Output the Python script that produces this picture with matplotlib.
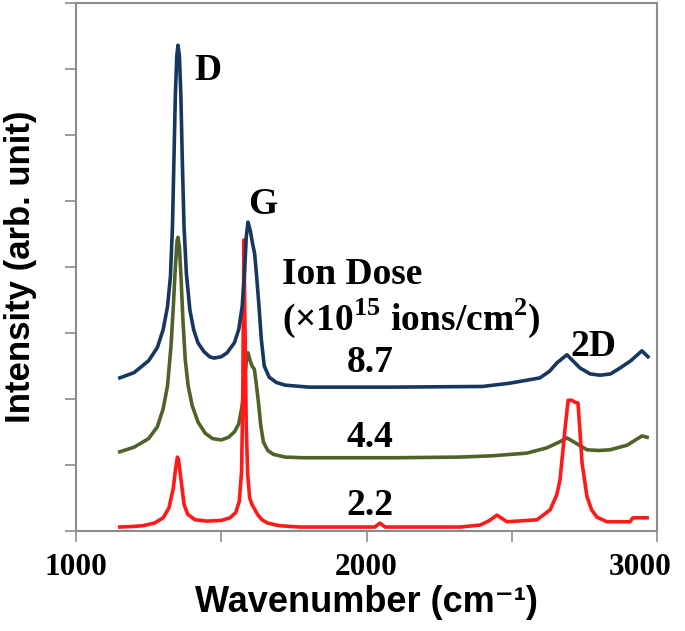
import matplotlib
matplotlib.use('Agg')
import matplotlib.pyplot as plt
import matplotlib.transforms as mtransforms

# Raman spectra, intensity in tick units (arb.)
wn_87 = [1151, 1200, 1250, 1280, 1300, 1315, 1325, 1332, 1337, 1342, 1347, 1351, 1356, 1361, 1366,
         1372, 1380, 1392, 1405, 1420, 1440, 1460, 1475, 1500, 1520, 1545, 1560, 1572, 1580, 1586,
         1592, 1600, 1608, 1615, 1622, 1630, 1638, 1648, 1665, 1690, 1720, 1800, 2100, 2400,
         2494, 2597, 2630, 2656, 2690, 2710, 2735, 2770, 2804, 2840, 2873, 2910, 2948, 2969]
i_87 = [2.32, 2.40, 2.58, 2.78, 3.05, 3.40, 3.85, 4.60, 5.60, 6.60, 7.20, 7.36, 7.20, 6.60, 5.60,
        4.60, 3.90, 3.35, 3.05, 2.85, 2.72, 2.64, 2.62, 2.64, 2.70, 2.85, 3.05, 3.40, 3.90, 4.45,
        4.68, 4.55, 4.35, 4.20, 3.85, 3.40, 2.90, 2.50, 2.33, 2.25, 2.21, 2.18, 2.18, 2.19,
        2.24, 2.32, 2.42, 2.55, 2.67, 2.58, 2.47, 2.38, 2.36, 2.38, 2.47, 2.58, 2.73, 2.64]

wn_44 = [1151, 1200, 1250, 1280, 1300, 1315, 1327, 1335, 1342, 1348, 1351, 1356, 1362, 1368, 1376,
         1386, 1400, 1420, 1445, 1470, 1500, 1525, 1545, 1560, 1572, 1580, 1587, 1592, 1598, 1606,
         1614, 1620, 1628, 1636, 1645, 1660, 1680, 1720, 1780, 2100, 2322, 2435, 2552, 2621,
         2660, 2690, 2725, 2759, 2800, 2838, 2897, 2948, 2966]
i_44 = [1.20, 1.27, 1.40, 1.58, 1.85, 2.20, 2.80, 3.40, 4.00, 4.40, 4.45, 4.30, 3.80, 3.20, 2.60,
        2.20, 1.90, 1.65, 1.48, 1.40, 1.38, 1.42, 1.50, 1.62, 1.90, 2.30, 2.60, 2.70, 2.60, 2.50,
        2.45, 2.25, 1.95, 1.60, 1.35, 1.22, 1.16, 1.12, 1.11, 1.11, 1.12, 1.14, 1.18, 1.26,
        1.34, 1.41, 1.32, 1.23, 1.22, 1.23, 1.30, 1.44, 1.42]

wn_22 = [1151, 1200, 1230, 1270, 1300, 1320, 1335, 1343, 1349, 1353, 1358, 1365, 1372, 1385, 1410,
         1450, 1500, 1530, 1550, 1562, 1570, 1574, 1578, 1582, 1586, 1591, 1598, 1606, 1615, 1625,
         1640, 1660, 1700, 1770, 2029, 2046, 2064, 2322, 2391, 2420, 2449, 2484, 2587,
         2632, 2655, 2666, 2683, 2694, 2707, 2718, 2728, 2735, 2742, 2759, 2775, 2793, 2828,
         2907, 2917, 2966]
i_22 = [0.06, 0.07, 0.08, 0.12, 0.20, 0.35, 0.65, 0.95, 1.12, 1.08, 0.90, 0.65, 0.40, 0.25, 0.17,
        0.15, 0.16, 0.20, 0.28, 0.45, 0.90, 2.00, 4.41, 3.00, 1.60, 0.85, 0.50, 0.40, 0.33, 0.25,
        0.17, 0.12, 0.08, 0.06, 0.06, 0.12, 0.06, 0.06, 0.09, 0.15, 0.24, 0.14, 0.17,
        0.32, 0.55, 0.77, 1.53, 1.98, 1.98, 1.95, 1.94, 1.50, 1.03, 0.52, 0.32, 0.21, 0.14,
        0.14, 0.20, 0.20]

doses = ['8.7', '4.4', '2.2']
colors = ['#17375E', '#4F6228', '#FF1A1A']

plt.rcParams['mathtext.fontset'] = 'custom'
plt.rcParams['mathtext.rm'] = 'Liberation Serif:bold'
plt.rcParams['mathtext.bf'] = 'Liberation Serif:bold'

fig = plt.figure(figsize=(6.85, 6.31), dpi=100)
ax = fig.add_axes([76/685, 100/631, 581/685, 528/631])

# green under red under blue, as in the original
ax.plot(wn_44, i_44, color=colors[1], lw=2.6, solid_joinstyle='round')
ax.plot(wn_22, i_22, color=colors[2], lw=2.6, solid_joinstyle='round')
ax.plot(wn_87, i_87, color=colors[0], lw=2.6, solid_joinstyle='round')

ax.set_xlim(1000, 3000)
ax.set_ylim(0, 8)
ax.set_xticks([1000, 1500, 2000, 2500, 3000])
ax.set_xticklabels(['1000', '', '2000', '', '3000'])
ax.set_yticks(range(9))
ax.set_yticklabels([])
for s in ax.spines.values():
  s.set_color('#8C8C8C')
  s.set_linewidth(1.5)
ax.tick_params(direction='out', length=8, width=1.2, color='#8C8C8C', pad=8)
for lab in ax.get_xticklabels():
  lab.set_fontfamily('Liberation Serif')
  lab.set_fontweight('bold')
  lab.set_fontsize(22.5)
# last label sits a little left so it stays inside the picture
last = ax.get_xticklabels()[-1]
last.set_transform(last.get_transform() +
                   mtransforms.ScaledTranslation(-17/100, 0, fig.dpi_scale_trans))

ax.set_xlabel('Wavenumber (cm\u207b\u00b9)', family=['Liberation Sans', 'DejaVu Sans'],
              fontweight='bold', fontsize=26, labelpad=2)
ax.set_ylabel('Intensity (arb. unit)', family='Liberation Sans', fontweight='bold',
              fontsize=25, labelpad=12)

tkw = dict(family='Liberation Serif', fontweight='bold', fontsize=27)
ax.text(1454, 6.97, 'D', ha='center', va='center', **tkw)
ax.text(1644, 4.95, 'G', ha='center', va='center', **tkw)
ax.text(2780, 2.80, '2D', ha='center', va='center', **tkw)
ax.text(1709, 3.88, 'Ion Dose', ha='left', va='center', **tkw)
ax.text(1709, 3.23, '(\u00d710$^{15}$ ions/cm$^{2}$)', ha='left', va='center', **tkw)
for d, y in zip(doses, [2.55, 1.42, 0.39]):
  ax.text(2012, y, d, ha='center', va='center', **tkw)

fig.savefig('out.png', dpi=100)
